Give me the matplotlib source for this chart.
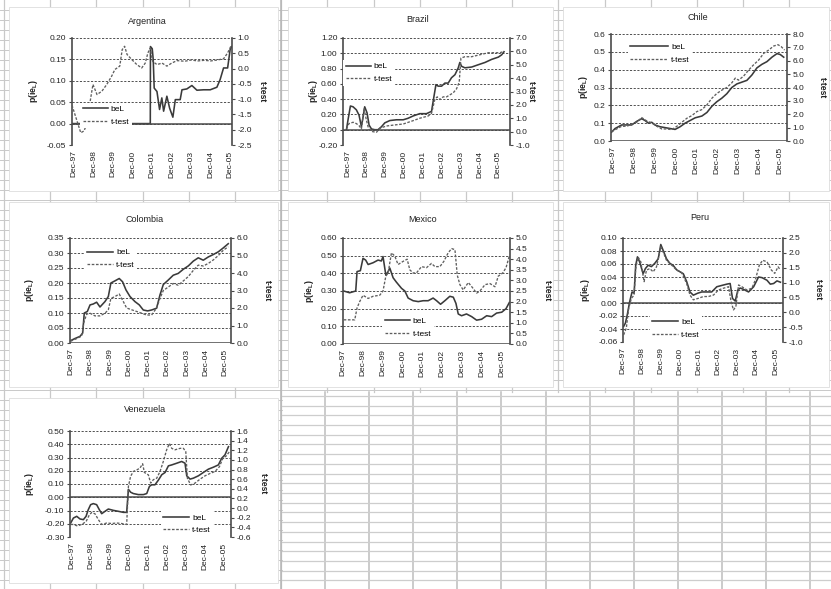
import matplotlib
matplotlib.use('Agg')
import matplotlib.pyplot as plt
from matplotlib.patches import Rectangle
from matplotlib.ticker import FormatStrFormatter

plt.rcParams['font.family'] = ['Liberation Sans', 'DejaVu Sans']
plt.rcParams['axes.unicode_minus'] = False
plt.rcParams['mathtext.fontset'] = 'custom'
plt.rcParams['mathtext.rm'] = 'Liberation Sans'
plt.rcParams['mathtext.bf'] = 'Liberation Sans:bold'

# x = months after Dec-97
year_labels = ['Dec-97', 'Dec-98', 'Dec-99', 'Dec-00', 'Dec-01',
               'Dec-02', 'Dec-03', 'Dec-04', 'Dec-05']
year_pos = [0, 12, 24, 36, 48, 60, 72, 84, 96]

# Argentina
arg_m_bel = [-1.4, 46.8, 46.9, 48.0, 48.6, 49.2, 50.9, 52.5, 53.9, 55.0, 57.0, 58.7, 60.7, 62.2,
             65.2, 66.3, 69.3, 72.4, 75.5, 79.6, 83.7, 87.8, 89.8, 91.9, 94.4, 96.0, 97.0]
arg_bel = [0.0, 0.0, 0.18, 0.175, 0.15, 0.083, 0.075, 0.033, 0.06, 0.029, 0.064, 0.036, 0.015, 0.056,
           0.056, 0.079, 0.081, 0.089, 0.078, 0.079, 0.079, 0.085, 0.103, 0.13, 0.13, 0.174, 0.18]
arg_m_t = [-1.4, 4, 6, 8, 10, 11.5, 14, 17, 20, 23, 25, 28, 29.5, 31, 32.5, 35.5, 38.5, 41.5, 43.7,
           45.3, 46.8, 48.2, 50.9, 54, 57, 60, 63.2, 68, 72, 76, 80, 84, 88, 91.9, 94.4, 96.4, 97.0]
arg_t = [-1.2, -2.1, -2.04, -1.77, -1.0, -0.52, -0.85, -0.74, -0.52, -0.25, -0.03, 0.08, 0.62, 0.73,
         0.46, 0.29, 0.13, 0.02, 0.18, 0.51, 0.67, 0.24, 0.13, 0.18, 0.08, 0.18, 0.26, 0.24, 0.28,
         0.25, 0.27, 0.25, 0.28, 0.32, 0.51, 0.73, 0.75]

# Brazil
bra_m_bel = [-0.6, 0.4, 1.9, 3.6, 5.7, 7.4, 8.9, 10.0, 11.0, 12.5, 13.8, 15.3, 17.4, 19.5, 21.7,
             23.8, 27.0, 31.2, 35.5, 38.6, 41.8, 46.0, 50.3, 53.5, 55.0, 56.3, 57.7, 59.9, 62.0,
             64.1, 66.2, 68.4, 70.5, 71.5, 72.6, 74.7, 79.0, 83.2, 87.5, 91.7, 96.0, 98.1, 99.6]
bra_bel = [0.0, 0.13, 0.31, 0.30, 0.26, 0.19, 0.04, 0.17, 0.30, 0.22, 0.06, 0.01, 0.0, 0.0, 0.04,
           0.09, 0.12, 0.13, 0.13, 0.15, 0.18, 0.21, 0.21, 0.24, 0.43, 0.59, 0.57, 0.57, 0.61,
           0.61, 0.68, 0.72, 0.81, 0.88, 0.83, 0.81, 0.82, 0.85, 0.88, 0.92, 0.95, 0.98, 1.02]
bra_m_t = [-0.6, 1.0, 3.6, 5.7, 7.4, 8.9, 10.6, 12.0, 13.5, 16.0, 18.5, 20.6, 24.8, 30.1, 35.5,
           41.8, 46.0, 51.4, 53.5, 55.6, 57.1, 58.8, 60.9, 63.1, 65.2, 67.3, 69.4, 71.1, 72.2,
           74.7, 79.0, 84.3, 89.6, 93.8, 97.0, 99.6]
bra_t = [0.2, 0.6, 0.7, 0.6, 0.45, 0.2, 1.75, 0.9, 0.2, 0.0, -0.05, 0.25, 0.42, 0.5, 0.57, 0.82,
         1.0, 1.17, 1.37, 2.4, 2.6, 2.4, 2.6, 2.6, 2.75, 2.9, 3.2, 3.7, 5.5, 5.6, 5.6, 5.75, 5.9,
         5.9, 5.9, 6.0]

# Chile
chl_m_bel = [-1.0, 1.0, 2.9, 4.8, 7.7, 10.6, 13.5, 16.4, 18.3, 20.3, 22.2, 24.1, 27.0, 29.9, 32.8,
             35.7, 38.6, 41.5, 44.4, 47.3, 51.2, 54.1, 57.0, 59.8, 62.7, 65.6, 68.5, 71.4, 74.3,
             77.2, 80.1, 83.0, 85.9, 88.8, 91.7, 94.6, 96.5, 98.5]
chl_bel = [0.05, 0.07, 0.08, 0.09, 0.09, 0.09, 0.11, 0.125, 0.115, 0.10, 0.105, 0.09, 0.08, 0.075,
           0.07, 0.065, 0.08, 0.10, 0.115, 0.13, 0.14, 0.16, 0.195, 0.22, 0.24, 0.265, 0.30, 0.32,
           0.33, 0.34, 0.37, 0.41, 0.43, 0.445, 0.47, 0.49, 0.485, 0.47]
chl_m_t = [-1.0, 1.9, 4.8, 7.7, 10.6, 13.5, 16.4, 19.3, 22.2, 25.1, 28.0, 30.9, 33.8, 36.7, 39.6,
           42.5, 45.4, 48.3, 51.2, 54.1, 57.0, 59.8, 62.7, 65.6, 68.5, 70.5, 72.4, 75.3, 78.2,
           81.1, 84.0, 86.9, 89.8, 92.7, 95.2, 97.1, 99.0]
chl_t = [0.7, 0.9, 1.1, 1.1, 1.25, 1.4, 1.75, 1.5, 1.35, 1.1, 0.9, 0.9, 0.85, 1.1, 1.4, 1.7, 1.9,
         2.2, 2.35, 2.7, 3.2, 3.55, 3.8, 4.0, 4.35, 4.7, 4.55, 4.85, 5.3, 5.7, 6.05, 6.55, 6.8,
         7.1, 7.2, 7.05, 6.8]

# Colombia
col_m_bel = [-0.2, 2.5, 5.6, 7.3, 8.3, 10.2, 11.9, 13.9, 16.0, 18.1, 21.2, 23.3, 24.9, 27.4, 30.1,
             32.2, 34.3, 36.8, 39.9, 42.6, 45.1, 47.8, 50.3, 53.4, 55.5, 57.6, 60.7, 63.8, 66.9,
             70.1, 73.2, 76.3, 79.4, 82.5, 85.7, 88.8, 91.9, 95.0, 98.1]
col_bel = [0.008, 0.015, 0.022, 0.033, 0.10, 0.105, 0.127, 0.13, 0.136, 0.12, 0.138, 0.155, 0.20,
           0.207, 0.215, 0.204, 0.177, 0.155, 0.138, 0.127, 0.11, 0.107, 0.11, 0.116, 0.16, 0.195,
           0.21, 0.226, 0.232, 0.246, 0.257, 0.273, 0.284, 0.276, 0.287, 0.295, 0.304, 0.317, 0.331]
col_m_t = [-0.2, 3.5, 6.7, 8.1, 9.8, 11.9, 15.0, 18.1, 21.2, 23.3, 24.9, 27.4, 30.1, 32.2, 34.7,
           37.8, 41.0, 44.1, 47.2, 50.3, 53.4, 55.5, 57.6, 60.7, 63.8, 66.9, 70.1, 73.2, 76.3,
           79.4, 82.5, 85.7, 88.8, 91.9, 95.0, 98.1]
col_t = [0.1, 0.25, 0.4, 1.2, 1.65, 1.7, 1.55, 1.55, 1.7, 1.9, 2.55, 2.65, 2.8, 2.45, 2.0, 1.9,
         1.8, 1.7, 1.6, 1.6, 2.0, 2.55, 3.0, 3.2, 3.4, 3.3, 3.55, 3.8, 4.15, 4.45, 4.4, 4.55,
         4.75, 5.0, 5.3, 5.5]

# Mexico
mex_m_bel = [0.4, 4.0, 7.7, 8.5, 10.5, 12.1, 13.7, 15.2, 18.2, 21.2, 23.2, 24.2, 25.9, 27.3, 28.3,
             30.3, 32.3, 35.4, 37.4, 39.4, 42.4, 45.5, 48.5, 51.5, 54.5, 56.6, 59.0, 61.6, 64.6,
             66.7, 68.3, 69.7, 71.7, 74.7, 77.8, 80.8, 83.8, 86.9, 89.9, 92.9, 96.0, 98.6, 100.6]
mex_bel = [0.30, 0.29, 0.30, 0.41, 0.415, 0.485, 0.475, 0.45, 0.46, 0.475, 0.47, 0.495, 0.39, 0.41,
           0.43, 0.375, 0.35, 0.315, 0.30, 0.26, 0.245, 0.24, 0.245, 0.245, 0.26, 0.245, 0.225,
           0.245, 0.27, 0.265, 0.23, 0.17, 0.16, 0.17, 0.155, 0.135, 0.14, 0.16, 0.155, 0.175,
           0.18, 0.20, 0.235]
mex_m_t = [0.4, 7.1, 8.5, 10.1, 12.1, 15.2, 18.2, 22.2, 24.2, 25.9, 27.3, 29.3, 31.3, 33.3, 36.4,
           38.8, 40.4, 42.4, 44.4, 47.5, 50.5, 53.5, 55.6, 58.6, 61.0, 63.6, 65.7, 67.7, 69.1,
           70.7, 72.7, 75.8, 78.4, 80.8, 82.8, 85.9, 88.9, 91.9, 93.9, 96.6, 98.6, 100.6]
mex_t = [1.14, 1.14, 1.7, 2.0, 2.3, 2.15, 2.25, 2.3, 2.5, 3.2, 3.35, 4.3, 4.15, 3.75, 3.9, 4.0,
         3.5, 3.35, 3.35, 3.65, 3.6, 3.8, 3.65, 3.65, 3.9, 4.3, 4.5, 4.45, 3.25, 2.8, 2.55, 2.9,
         2.65, 2.4, 2.5, 2.8, 2.85, 2.7, 3.2, 3.35, 3.6, 4.15]

# Peru
per_m_bel = [0.4, 1.5, 2.7, 4.2, 5.7, 7.0, 8.0, 9.1, 10.5, 12.7, 14.1, 15.8, 17.9, 20.0, 22.2,
             23.8, 25.3, 27.4, 29.5, 31.6, 33.8, 35.9, 38.0, 40.1, 42.2, 44.3, 47.0, 49.6, 52.7,
             55.9, 59.1, 62.2, 65.4, 67.5, 69.0, 70.7, 72.4, 73.8, 75.9, 79.1, 82.3, 85.4, 87.6,
             90.7, 92.8, 94.9, 97.0, 99.2]
per_bel = [-0.036, -0.031, -0.018, 0.002, 0.017, 0.015, 0.058, 0.071, 0.063, 0.045, 0.053, 0.058,
           0.056, 0.061, 0.068, 0.09, 0.081, 0.068, 0.061, 0.058, 0.051, 0.048, 0.045, 0.033,
           0.017, 0.012, 0.015, 0.017, 0.017, 0.017, 0.025, 0.027, 0.029, 0.03, 0.007, 0.003,
           0.02, 0.023, 0.021, 0.017, 0.025, 0.04, 0.039, 0.035, 0.029, 0.03, 0.034, 0.032]
per_m_t = [0.4, 2.1, 3.6, 5.3, 7.0, 8.0, 9.5, 11.2, 13.3, 14.8, 16.9, 19.0, 21.1, 23.8, 25.3,
           27.4, 30.6, 33.8, 36.9, 40.1, 42.2, 44.3, 47.5, 50.6, 53.8, 57.0, 60.1, 63.3, 66.5,
           68.1, 69.6, 71.1, 72.8, 74.9, 78.1, 81.2, 83.3, 85.9, 88.0, 90.7, 93.5, 95.6, 97.7, 99.2]
per_t = [-0.76, -0.53, 0.14, 0.47, 0.58, 1.47, 1.86, 1.7, 1.03, 1.42, 1.47, 1.36, 1.53, 2.2, 2.03,
         1.75, 1.59, 1.42, 1.34, 0.97, 0.58, 0.42, 0.47, 0.53, 0.53, 0.58, 0.75, 0.81, 0.86, 0.36,
         0.08, 0.19, 0.92, 0.86, 0.75, 0.81, 1.08, 1.59, 1.75, 1.7, 1.42, 1.31, 1.53, 1.42]

# Venezuela
ven_m_bel = [-0.6, 1.1, 3.2, 5.3, 7.4, 9.1, 10.5, 12.0, 13.7, 15.8, 17.5, 19.0, 21.1, 23.2, 26.4,
             29.5, 32.7, 34.8, 35.9, 37.3, 39.0, 42.2, 45.4, 47.5, 49.2, 50.6, 52.7, 54.9, 57.0,
             59.1, 61.2, 63.3, 66.5, 69.6, 71.7, 72.8, 74.9, 77.0, 80.2, 83.3, 86.5, 89.7, 92.8,
             94.9, 97.0, 99.2]
ven_bel = [-0.194, -0.157, -0.144, -0.164, -0.169, -0.144, -0.094, -0.056, -0.048, -0.056, -0.094,
           -0.124, -0.106, -0.089, -0.099, -0.106, -0.114, -0.114, 0.06, 0.038, 0.028, 0.02, 0.02,
           0.028, 0.082, 0.094, 0.094, 0.13, 0.17, 0.187, 0.237, 0.244, 0.257, 0.27, 0.257, 0.162,
           0.137, 0.144, 0.162, 0.187, 0.212, 0.227, 0.244, 0.294, 0.32, 0.382]
ven_m_t = [-0.6, 1.1, 3.6, 6.3, 9.1, 11.2, 12.7, 14.8, 16.9, 19.0, 22.2, 25.3, 28.5, 31.6, 34.8,
           35.9, 37.3, 39.0, 41.1, 43.2, 44.9, 46.0, 48.5, 50.0, 51.7, 53.8, 55.9, 58.0, 60.1,
           61.8, 63.3, 65.4, 68.6, 70.7, 72.2, 73.2, 75.3, 78.1, 81.2, 84.4, 87.6, 90.7, 93.5,
           95.6, 97.7, 99.8]
ven_t = [-0.34, -0.34, -0.37, -0.34, -0.28, -0.14, -0.09, -0.12, -0.24, -0.34, -0.31, -0.32, -0.31,
         -0.32, -0.34, 0.45, 0.66, 0.76, 0.79, 0.83, 0.92, 0.74, 0.69, 0.52, 0.59, 0.62, 0.76,
         0.97, 1.21, 1.34, 1.24, 1.21, 1.24, 1.24, 1.17, 0.62, 0.48, 0.52, 0.6, 0.67, 0.72, 0.76,
         0.86, 1.03, 1.08, 1.17]

W, H = 831, 589
fig = plt.figure(figsize=(W / 100, H / 100), dpi=100)

# spreadsheet background, drawn in pixel coordinates
bg = fig.add_axes([0, 0, 1, 1])
bg.set_zorder(-1)
bg.set_xlim(0, W)
bg.set_ylim(H, 0)
bg.axis('off')
gc = '#c9c9c9'
x = 4.0
while x < W:
    bg.plot([x, x], [0, 392 if x > 282 else H], color=gc, lw=0.9)
    x += 46.2
y = 10.0
while y < H:
    bg.plot([0, 282 if y > 392 else W], [y, y], color=gc, lw=0.7)
    y += 10.0
x = 325.0
while x < W:
    bg.plot([x, x], [392, H], color='#bdbdbd', lw=1.1)
    x += 44.1
y = 396.0
while y < H:
    bg.plot([281, W], [y, y], color='#cdcdcd', lw=0.9)
    y += 9.7
bg.plot([281, 281], [0, H], color='#b5b5b5', lw=1.1)

# white chart objects over the sheet
boxes = [(9, 7, 278, 191), (288, 7, 553, 191), (563, 7, 829, 191),
         (9, 202, 278, 387), (288, 202, 553, 387), (563, 202, 829, 387),
         (9, 398, 278, 583)]
for x0, y0, x1, y1 in boxes:
    bg.add_patch(Rectangle((x0, y0), x1 - x0, y1 - y0, facecolor='white',
                           edgecolor='#dddddd', lw=0.6, zorder=5))


def frange(a, b, n):
    return [round(a + (b - a) * i / n, 4) + 0.0 for i in range(n + 1)]


panels = [
    dict(name='Argentina', mb=arg_m_bel, b=arg_bel, mt=arg_m_t, t=arg_t,
         box=(72, 38, 232, 145), xlim=(-1.4, 97.1),
         yt=frange(-0.05, 0.20, 5), yf='%.2f', y2t=frange(-2.5, 1.0, 7), y2f='%.1f',
         title=(147, 22), lab=(33, 262), leg=(106, 115.5), hl=3.0),
    dict(name='Brazil', mb=bra_m_bel, b=bra_bel, mt=bra_m_t, t=bra_t,
         box=(343, 38, 510, 145), xlim=(-2.8, 103.4),
         yt=frange(-0.2, 1.2, 7), yf='%.2f', y2t=frange(-1.0, 7.0, 8), y2f='%.1f',
         title=(418, 20), lab=(313, 531), leg=(369, 73), hl=3.0),
    dict(name='Chile', mb=chl_m_bel, b=chl_bel, mt=chl_m_t, t=chl_t,
         box=(611, 34, 787, 141), xlim=(-1.35, 100.4),
         yt=frange(0.0, 0.6, 6), yf='%.1f', y2t=frange(0.0, 8.0, 8), y2f='%.1f',
         title=(698, 17), lab=(583, 822), leg=(660, 53.5), hl=4.5),
    dict(name='Colombia', mb=col_m_bel, b=col_bel, mt=col_m_t, t=col_t,
         box=(70, 238, 231, 343), xlim=(-0.6, 99.8),
         yt=frange(0.0, 0.35, 7), yf='%.2f', y2t=frange(0.0, 6.0, 6), y2f='%.1f',
         title=(145, 219), lab=(30, 267), leg=(111, 259), hl=3.1),
    dict(name='Mexico', mb=mex_m_bel, b=mex_bel, mt=mex_m_t, t=mex_t,
         box=(343, 238, 510, 344), xlim=(0.0, 101.0),
         yt=frange(0.0, 0.6, 6), yf='%.2f', y2t=frange(0.0, 5.0, 10), y2f='%.1f',
         title=(423, 219), lab=(309, 547), leg=(408, 327.5), hl=3.0),
    dict(name='Peru', mb=per_m_bel, b=per_bel, mt=per_m_t, t=per_t,
         box=(623, 238, 783, 342), xlim=(0.0, 100.8),
         yt=frange(-0.06, 0.10, 8), yf='%.2f', y2t=frange(-1.0, 2.5, 7), y2f='%.1f',
         title=(700, 217), lab=(585, 818), leg=(676, 328.5), hl=3.1),
    dict(name='Venezuela', mb=ven_m_bel, b=ven_bel, mt=ven_m_t, t=ven_t,
         box=(70, 431, 231, 537), xlim=(-1.05, 100.8),
         yt=frange(-0.3, 0.5, 8), yf='%.2f', y2t=frange(-0.6, 1.6, 11), y2f='%.1f',
         title=(145, 410), lab=(30, 263), leg=(187, 524), hl=3.1),
]

fs = 6
axis_col = '#4a4a4a'
txt_col = '#222222'
for p in panels:
    l, t, r, b = p['box']
    ax = fig.add_axes([l / W, 1 - b / H, (r - l) / W, (b - t) / H])
    ax2 = ax.twinx()

    h1, = ax.plot(p['mb'], p['b'], color='#3a3a3a', lw=1.15, label='beL')
    h2, = ax2.plot(p['mt'], p['t'], color='#5e5e5e', lw=0.95,
                   linestyle=(0, (2.0, 1.2)), label='t-test')
    ax.axhline(0, color=axis_col, lw=1.1, zorder=2.5)

    ax.set_xlim(*p['xlim'])
    ax.set_ylim(p['yt'][0], p['yt'][-1])
    ax.set_yticks(p['yt'])
    ax.yaxis.set_major_formatter(FormatStrFormatter(p['yf']))
    ax2.set_ylim(p['y2t'][0], p['y2t'][-1])
    ax2.set_yticks(p['y2t'])
    ax2.yaxis.set_major_formatter(FormatStrFormatter(p['y2f']))

    ax.set_xticks(year_pos)
    ax.set_xticklabels(year_labels, rotation=90)
    ax.tick_params(axis='x', length=0, pad=4, labelsize=fs, colors=txt_col)
    for a in (ax, ax2):
        a.tick_params(axis='y', direction='out', length=2.5, width=0.8, pad=1.5,
                      labelsize=fs, labelcolor=txt_col, color=axis_col)

    ax.grid(axis='y', color='#505050', linestyle=(0, (2.2, 1.6)), linewidth=0.7)
    ax.grid(axis='x', visible=False)

    for s in ['top', 'bottom', 'right']:
        ax.spines[s].set_visible(False)
    for s in ['top', 'bottom', 'left']:
        ax2.spines[s].set_visible(False)
    ax.spines['left'].set_color(axis_col)
    ax.spines['left'].set_linewidth(1.2)
    ax2.spines['right'].set_color(axis_col)
    ax2.spines['right'].set_linewidth(1.2)

    yc = (t + b) / 2
    fig.text(p['lab'][0] / W, 1 - yc / H, r'p(ie$_\mathbf{L}$)', rotation=90,
             ha='center', va='center', fontsize=6.2, fontweight='bold', color=txt_col)
    fig.text(p['lab'][1] / W, 1 - yc / H, 't-test', rotation=270,
             ha='center', va='center', fontsize=6.2, fontweight='bold', color=txt_col)
    fig.text(p['title'][0] / W, 1 - p['title'][1] / H, p['name'],
             ha='center', va='center', fontsize=6.5, color=txt_col)

    ax2.legend([h1, h2], ['beL', 't-test'], loc='center',
               bbox_to_anchor=(p['leg'][0] / W, 1 - p['leg'][1] / H),
               bbox_transform=fig.transFigure, fontsize=fs,
               handlelength=p['hl'], labelspacing=0.6, borderpad=0.3,
               handletextpad=0.4, borderaxespad=0, fancybox=False,
               framealpha=1, facecolor='white', edgecolor='none')

fig.savefig('out.png', dpi=100, facecolor='white')
